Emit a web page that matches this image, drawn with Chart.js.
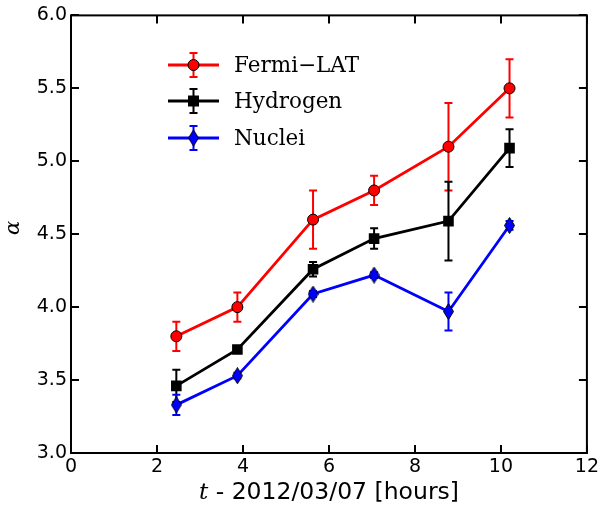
<!DOCTYPE html>
<html>
<head>
<meta charset="utf-8">
<script src="https://cdn.jsdelivr.net/npm/chart.js@4"></script>
<style>
  html, body { margin: 0; padding: 0; background: #fff; }
  #wrap { width: 602px; height: 506px; position: relative; }
</style>
</head>
<body>
<div id="wrap"><canvas id="alphaChart" width="602" height="506"></canvas></div>
<script>
// Время наблюдений (часы после 2012/03/07)
const times = [2.45, 3.87, 5.63, 7.05, 8.78, 10.2];

// Спектральный индекс и ошибки
const fermiAlpha = [3.80, 4.00, 4.60, 4.80, 5.10, 5.50];
const fermiErr   = [0.10, 0.10, 0.20, 0.10, 0.30, 0.20];
const hydroAlpha = [3.46, 3.71, 4.26, 4.47, 4.59, 5.09];
const hydroErr   = [0.11, 0.02, 0.05, 0.07, 0.27, 0.13];
const nucAlpha   = [3.33, 3.53, 4.09, 4.22, 3.97, 4.56];
const nucErr     = [0.07, 0.02, 0.02, 0.02, 0.13, 0.03];

const seriesNames = ['Fermi\u2212LAT', 'Hydrogen', 'Nuclei'];
const seriesColors = ['#ff0000', '#000000', '#0000ff'];

const SERIF = '"DejaVu Serif", "Liberation Serif", serif';
const SANS = '"DejaVu Sans", sans-serif';

// Узкий ромб для маркера Nuclei
function thinDiamond(color) {
    const c = document.createElement('canvas');
    c.width = 11;
    c.height = 17;
    const g = c.getContext('2d');
    g.beginPath();
    g.moveTo(5.5, 0.5);
    g.lineTo(10.5, 8.5);
    g.lineTo(5.5, 16.5);
    g.lineTo(0.5, 8.5);
    g.closePath();
    g.fillStyle = color;
    g.fill();
    g.strokeStyle = '#000';
    g.lineWidth = 1;
    g.stroke();
    return c;
}
const diamondImg = thinDiamond('#0000ff');

function toPoints(ys) {
    return times.map((t, i) => ({ x: t, y: ys[i] }));
}

// Планки погрешностей
const errorBars = {
    id: 'errorBars',
    beforeDatasetsDraw(chart) {
        const ctx = chart.ctx;
        const xs = chart.scales.x;
        const ys = chart.scales.y;
        chart.data.datasets.forEach(ds => {
            ctx.save();
            ctx.strokeStyle = ds.borderColor;
            ctx.lineWidth = 2;
            ds.data.forEach((p, i) => {
                const px = xs.getPixelForValue(p.x);
                const top = ys.getPixelForValue(p.y + ds.errors[i]);
                const bot = ys.getPixelForValue(p.y - ds.errors[i]);
                ctx.beginPath();
                ctx.moveTo(px, top);
                ctx.lineTo(px, bot);
                ctx.moveTo(px - 4, top);
                ctx.lineTo(px + 4, top);
                ctx.moveTo(px - 4, bot);
                ctx.lineTo(px + 4, bot);
                ctx.stroke();
            });
            ctx.restore();
        });
    }
};

// Рамка, внутренние засечки и легенда
const frameAndLegend = {
    id: 'frameAndLegend',
    afterDraw(chart) {
        const ctx = chart.ctx;
        const a = chart.chartArea;
        const xs = chart.scales.x;
        const ys = chart.scales.y;
        ctx.save();
        ctx.strokeStyle = '#000';
        ctx.lineWidth = 2;
        ctx.strokeRect(a.left, a.top, a.right - a.left, a.bottom - a.top);
        ctx.beginPath();
        xs.ticks.forEach(t => {
            const px = Math.round(xs.getPixelForValue(t.value));
            ctx.moveTo(px, a.bottom);
            ctx.lineTo(px, a.bottom - 8);
            ctx.moveTo(px, a.top);
            ctx.lineTo(px, a.top + 8);
        });
        ys.ticks.forEach(t => {
            const py = Math.round(ys.getPixelForValue(t.value));
            ctx.moveTo(a.left, py);
            ctx.lineTo(a.left + 8, py);
            ctx.moveTo(a.right, py);
            ctx.lineTo(a.right - 8, py);
        });
        ctx.stroke();

        // легенда
        const lx = 168, tx = 234;
        const rows = [65, 101, 138];
        chart.data.datasets.forEach((ds, i) => {
            const y = rows[i];
            ctx.strokeStyle = ds.borderColor;
            ctx.lineWidth = 2.8;
            ctx.beginPath();
            ctx.moveTo(lx, y);
            ctx.lineTo(lx + 51, y);
            ctx.stroke();
            ctx.lineWidth = 2;
            ctx.beginPath();
            ctx.moveTo(lx + 25.5, y - 12);
            ctx.lineTo(lx + 25.5, y + 12);
            ctx.moveTo(lx + 21.5, y - 12);
            ctx.lineTo(lx + 29.5, y - 12);
            ctx.moveTo(lx + 21.5, y + 12);
            ctx.lineTo(lx + 29.5, y + 12);
            ctx.stroke();
            const cx = lx + 25.5;
            if (i === 0) {
                ctx.beginPath();
                ctx.arc(cx, y, 5.5, 0, Math.PI * 2);
                ctx.fillStyle = '#ff0000';
                ctx.fill();
                ctx.strokeStyle = '#000';
                ctx.lineWidth = 1;
                ctx.stroke();
            } else if (i === 1) {
                ctx.fillStyle = '#000';
                ctx.fillRect(cx - 5.5, y - 5.5, 11, 11);
            } else {
                ctx.drawImage(diamondImg, cx - 5.5, y - 8.5);
            }
            ctx.fillStyle = '#000';
            ctx.font = '21.5px ' + SERIF;
            ctx.textBaseline = 'alphabetic';
            ctx.textAlign = 'left';
            ctx.fillText(seriesNames[i], tx, y + 7);
        });

        // подпись оси Y
        ctx.font = 'italic 21px ' + SERIF;
        ctx.translate(14, 228);
        ctx.rotate(-Math.PI / 2);
        ctx.textAlign = 'center';
        ctx.textBaseline = 'middle';
        ctx.fillText('\u03b1', 0, 0);
        ctx.restore();

        // подпись оси X
        ctx.save();
        ctx.fillStyle = '#000';
        ctx.textBaseline = 'alphabetic';
        const yb = 499;
        const italicPart = 't';
        const rest = ' - 2012/03/07 [hours]';
        ctx.font = 'italic 23px ' + SERIF;
        const w1 = ctx.measureText(italicPart).width;
        ctx.font = '23.5px ' + SANS;
        const w2 = ctx.measureText(rest).width;
        const start = (a.left + a.right) / 2 - (w1 + w2) / 2;
        ctx.font = 'italic 23px ' + SERIF;
        ctx.textAlign = 'left';
        ctx.fillText(italicPart, start, yb);
        ctx.font = '23.5px ' + SANS;
        ctx.fillText(rest, start + w1, yb);
        ctx.restore();
    }
};

const datasets = [
    {
        label: seriesNames[0],
        data: toPoints(fermiAlpha),
        errors: fermiErr,
        borderColor: seriesColors[0],
        backgroundColor: seriesColors[0],
        pointBorderColor: '#000',
        pointBorderWidth: 1,
        pointStyle: 'circle',
        pointRadius: 5.5,
        borderWidth: 2.8
    },
    {
        label: seriesNames[1],
        data: toPoints(hydroAlpha),
        errors: hydroErr,
        borderColor: seriesColors[1],
        backgroundColor: seriesColors[1],
        pointBorderColor: '#000',
        pointBorderWidth: 0,
        pointStyle: 'rect',
        pointRadius: 7.5,
        borderWidth: 2.8
    },
    {
        label: seriesNames[2],
        data: toPoints(nucAlpha),
        errors: nucErr,
        borderColor: seriesColors[2],
        backgroundColor: seriesColors[2],
        pointStyle: diamondImg,
        pointRadius: 8,
        borderWidth: 2.8
    }
];

new Chart(document.getElementById('alphaChart'), {
    type: 'line',
    data: { datasets: datasets },
    options: {
        responsive: false,
        animation: false,
        layout: { padding: { top: 12, right: 14, left: 0, bottom: 0 } },
        plugins: {
            legend: { display: false },
            tooltip: { enabled: false }
        },
        scales: {
            x: {
                type: 'linear',
                min: 0,
                max: 12,
                afterFit(scale) { scale.height = 53; },
                ticks: {
                    stepSize: 2,
                    color: '#000',
                    padding: 3,
                    font: { family: SANS, size: 19 }
                },
                grid: { display: false, drawTicks: false },
                border: { display: false }
            },
            y: {
                min: 3.0,
                max: 6.0,
                afterFit(scale) { scale.width = 71; },
                ticks: {
                    stepSize: 0.5,
                    color: '#000',
                    padding: 4,
                    font: { family: SANS, size: 19 },
                    callback: v => v.toFixed(1)
                },
                grid: { display: false, drawTicks: false },
                border: { display: false }
            }
        }
    },
    plugins: [errorBars, frameAndLegend]
});
</script>
</body>
</html>
